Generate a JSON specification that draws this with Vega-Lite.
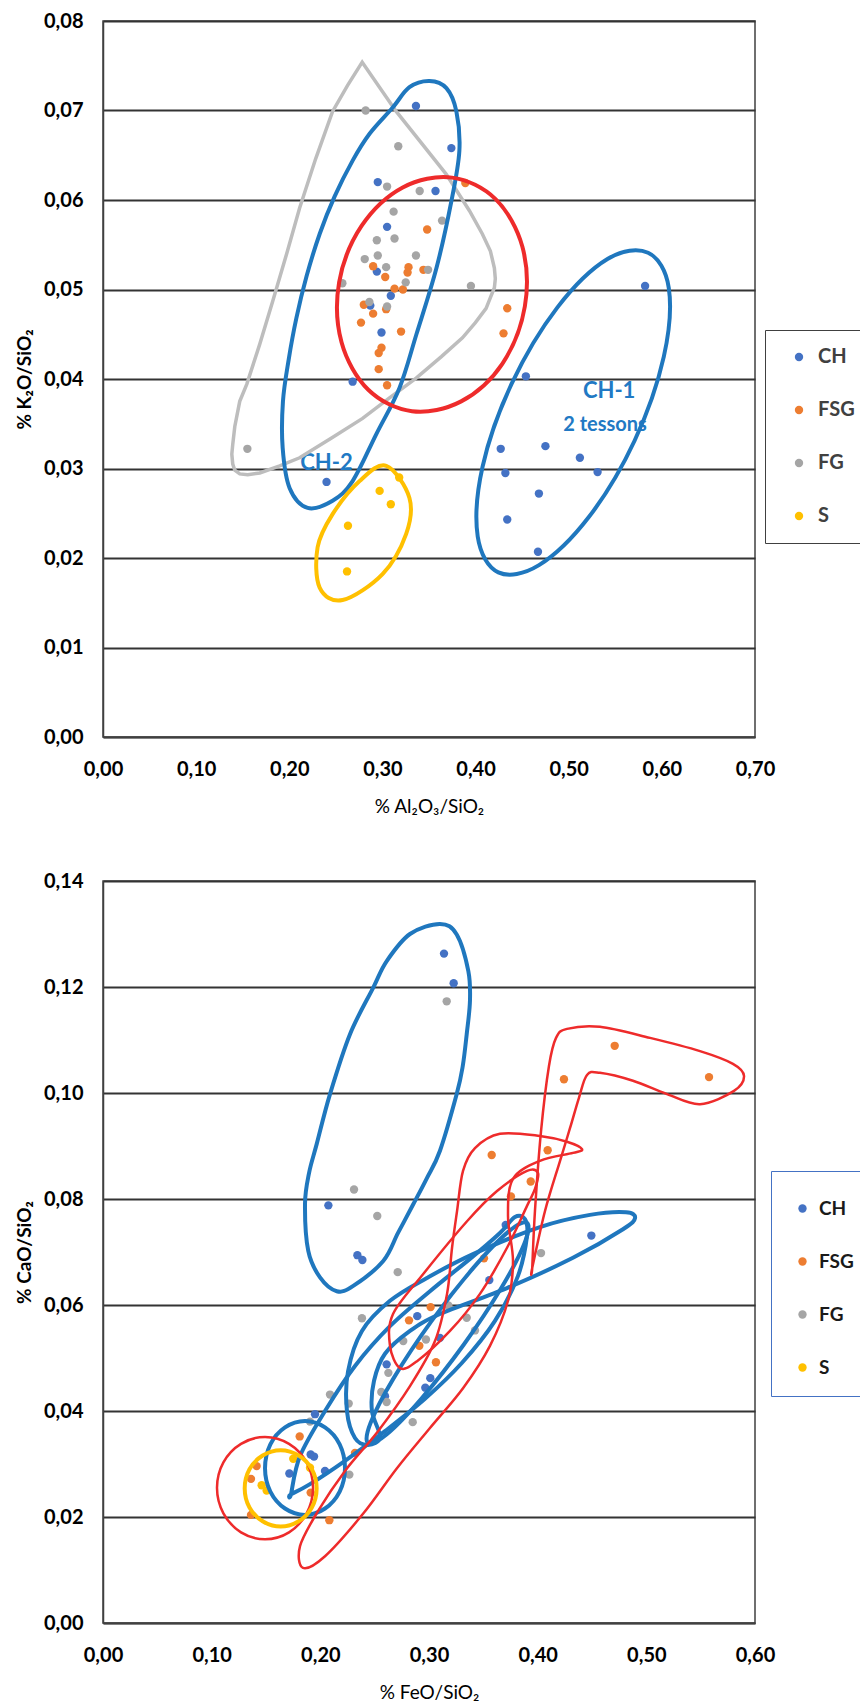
{
"$schema":"https://vega.github.io/schema/vega-lite/v6.json",
"background":"white",
"padding":{"left":14,"top":10,"right":0,"bottom":0},
"bounds":"flush",
"spacing":144,
"config":{
"font":"Lato",
"view":{"stroke":"#404040","strokeWidth":1.5},
"axis":{"labelFont":"Lato","labelFontSize":20,"labelFontWeight":"bold","labelColor":"black","labelFlush":false,"labelOverlap":false,"ticks":false,"tickSize":0,"domainColor":"#404040","domainWidth":1.5,"gridColor":"#333333","gridWidth":1.8,"titleFont":"Lato","titleFontSize":19,"titleColor":"black","titleFontWeight":"bold"},
"axisX":{"grid":false,"labelPadding":22,"titlePadding":18},
"axisY":{"grid":true,"labelPadding":20}
},
"resolve":{"scale":{"x":"independent","y":"independent","color":"independent"},"legend":{"color":"independent"}},
"datasets":{
"tp":[
{"grp":"CH","x":0.336,"y":0.0705},{"grp":"CH","x":0.374,"y":0.0658},{"grp":"CH","x":0.295,"y":0.062},{"grp":"CH","x":0.357,"y":0.061},{"grp":"CH","x":0.305,"y":0.057},{"grp":"CH","x":0.294,"y":0.052},{"grp":"CH","x":0.309,"y":0.0493},{"grp":"CH","x":0.287,"y":0.0482},{"grp":"CH","x":0.299,"y":0.0452},{"grp":"CH","x":0.268,"y":0.0397},{"grp":"CH","x":0.24,"y":0.0285},{"grp":"CH","x":0.582,"y":0.0504},{"grp":"CH","x":0.454,"y":0.0403},{"grp":"CH","x":0.427,"y":0.0322},{"grp":"CH","x":0.475,"y":0.0325},{"grp":"CH","x":0.512,"y":0.0312},{"grp":"CH","x":0.432,"y":0.0295},{"grp":"CH","x":0.531,"y":0.0296},{"grp":"CH","x":0.468,"y":0.0272},{"grp":"CH","x":0.434,"y":0.0243},{"grp":"CH","x":0.467,"y":0.0207},
{"grp":"FSG","x":0.348,"y":0.0567},{"grp":"FSG","x":0.389,"y":0.0619},{"grp":"FSG","x":0.29,"y":0.0526},{"grp":"FSG","x":0.303,"y":0.0514},{"grp":"FSG","x":0.328,"y":0.0525},{"grp":"FSG","x":0.327,"y":0.0519},{"grp":"FSG","x":0.344,"y":0.0522},{"grp":"FSG","x":0.313,"y":0.0501},{"grp":"FSG","x":0.322,"y":0.05},{"grp":"FSG","x":0.28,"y":0.0483},{"grp":"FSG","x":0.304,"y":0.0478},{"grp":"FSG","x":0.29,"y":0.0473},{"grp":"FSG","x":0.277,"y":0.0463},{"grp":"FSG","x":0.32,"y":0.0453},{"grp":"FSG","x":0.299,"y":0.0435},{"grp":"FSG","x":0.296,"y":0.0429},{"grp":"FSG","x":0.296,"y":0.0411},{"grp":"FSG","x":0.305,"y":0.0393},{"grp":"FSG","x":0.434,"y":0.0479},{"grp":"FSG","x":0.43,"y":0.0451},
{"grp":"FG","x":0.282,"y":0.07},{"grp":"FG","x":0.317,"y":0.066},{"grp":"FG","x":0.305,"y":0.0615},{"grp":"FG","x":0.34,"y":0.061},{"grp":"FG","x":0.312,"y":0.0587},{"grp":"FG","x":0.364,"y":0.0577},{"grp":"FG","x":0.294,"y":0.0555},{"grp":"FG","x":0.313,"y":0.0557},{"grp":"FG","x":0.281,"y":0.0534},{"grp":"FG","x":0.295,"y":0.0538},{"grp":"FG","x":0.336,"y":0.0538},{"grp":"FG","x":0.304,"y":0.0525},{"grp":"FG","x":0.349,"y":0.0522},{"grp":"FG","x":0.257,"y":0.0507},{"grp":"FG","x":0.325,"y":0.0508},{"grp":"FG","x":0.395,"y":0.0504},{"grp":"FG","x":0.286,"y":0.0486},{"grp":"FG","x":0.305,"y":0.0481},{"grp":"FG","x":0.155,"y":0.0322},
{"grp":"S","x":0.318,"y":0.029},{"grp":"S","x":0.297,"y":0.0275},{"grp":"S","x":0.309,"y":0.026},{"grp":"S","x":0.263,"y":0.0236},{"grp":"S","x":0.262,"y":0.0185}
],
"ts":[
{"grp":"CH","shape":"A","i":0,"x":0.3505,"y":0.0733},{"grp":"CH","shape":"A","i":1,"x":0.3687,"y":0.0725},{"grp":"CH","shape":"A","i":2,"x":0.3794,"y":0.0699},{"grp":"CH","shape":"A","i":3,"x":0.3826,"y":0.0655},{"grp":"CH","shape":"A","i":4,"x":0.3741,"y":0.0599},{"grp":"CH","shape":"A","i":5,"x":0.358,"y":0.0524},{"grp":"CH","shape":"A","i":6,"x":0.3365,"y":0.045},{"grp":"CH","shape":"A","i":7,"x":0.3183,"y":0.039},{"grp":"CH","shape":"A","i":8,"x":0.2937,"y":0.0339},{"grp":"CH","shape":"A","i":9,"x":0.268,"y":0.0286},{"grp":"CH","shape":"A","i":10,"x":0.2465,"y":0.0264},{"grp":"CH","shape":"A","i":11,"x":0.2197,"y":0.0256},{"grp":"CH","shape":"A","i":12,"x":0.2004,"y":0.0278},{"grp":"CH","shape":"A","i":13,"x":0.1929,"y":0.0323},{"grp":"CH","shape":"A","i":14,"x":0.1932,"y":0.0375},{"grp":"CH","shape":"A","i":15,"x":0.1994,"y":0.0422},{"grp":"CH","shape":"A","i":16,"x":0.2076,"y":0.0468},{"grp":"CH","shape":"A","i":17,"x":0.2186,"y":0.0515},{"grp":"CH","shape":"A","i":18,"x":0.2326,"y":0.0562},{"grp":"CH","shape":"A","i":19,"x":0.2487,"y":0.0604},{"grp":"CH","shape":"A","i":20,"x":0.268,"y":0.0644},{"grp":"CH","shape":"A","i":21,"x":0.2862,"y":0.0674},{"grp":"CH","shape":"A","i":22,"x":0.3108,"y":0.0703},{"grp":"CH","shape":"A","i":23,"x":0.329,"y":0.0726},
{"grp":"CH","shape":"B","i":0,"x":0.5852,"y":0.0541},{"grp":"CH","shape":"B","i":1,"x":0.6074,"y":0.0502},{"grp":"CH","shape":"B","i":2,"x":0.6021,"y":0.0425},{"grp":"CH","shape":"B","i":3,"x":0.5707,"y":0.0331},{"grp":"CH","shape":"B","i":4,"x":0.5218,"y":0.0246},{"grp":"CH","shape":"B","i":5,"x":0.4681,"y":0.0192},{"grp":"CH","shape":"B","i":6,"x":0.4244,"y":0.0184},{"grp":"CH","shape":"B","i":7,"x":0.4023,"y":0.0224},{"grp":"CH","shape":"B","i":8,"x":0.4075,"y":0.0302},{"grp":"CH","shape":"B","i":9,"x":0.4389,"y":0.0395},{"grp":"CH","shape":"B","i":10,"x":0.4879,"y":0.048},{"grp":"CH","shape":"B","i":11,"x":0.5416,"y":0.0534},
{"grp":"FSG","shape":"C","i":0,"x":0.3746,"y":0.0625},{"grp":"FSG","shape":"C","i":1,"x":0.4215,"y":0.0601},{"grp":"FSG","shape":"C","i":2,"x":0.4502,"y":0.0548},{"grp":"FSG","shape":"C","i":3,"x":0.4529,"y":0.0481},{"grp":"FSG","shape":"C","i":4,"x":0.4287,"y":0.0417},{"grp":"FSG","shape":"C","i":5,"x":0.3845,"y":0.0375},{"grp":"FSG","shape":"C","i":6,"x":0.3317,"y":0.0364},{"grp":"FSG","shape":"C","i":7,"x":0.2848,"y":0.0388},{"grp":"FSG","shape":"C","i":8,"x":0.2561,"y":0.0441},{"grp":"FSG","shape":"C","i":9,"x":0.2535,"y":0.0508},{"grp":"FSG","shape":"C","i":10,"x":0.2776,"y":0.0571},{"grp":"FSG","shape":"C","i":11,"x":0.3218,"y":0.0614},
{"grp":"S","shape":"E","i":0,"x":0.3041,"y":0.0303},{"grp":"S","shape":"E","i":1,"x":0.329,"y":0.0267},{"grp":"S","shape":"E","i":2,"x":0.3255,"y":0.0227},{"grp":"S","shape":"E","i":3,"x":0.3001,"y":0.0182},{"grp":"S","shape":"E","i":4,"x":0.2572,"y":0.0153},{"grp":"S","shape":"E","i":5,"x":0.2326,"y":0.0167},{"grp":"S","shape":"E","i":6,"x":0.2304,"y":0.0212},{"grp":"S","shape":"E","i":7,"x":0.2465,"y":0.0249},{"grp":"S","shape":"E","i":8,"x":0.2755,"y":0.0286}
],
"tg":[
{"grp":"FG","shape":"D","i":0,"x":0.2783,"y":0.0754},{"grp":"FG","shape":"D","i":1,"x":0.3148,"y":0.0699},{"grp":"FG","shape":"D","i":2,"x":0.3684,"y":0.0629},{"grp":"FG","shape":"D","i":3,"x":0.3934,"y":0.0588},{"grp":"FG","shape":"D","i":4,"x":0.4073,"y":0.0562},{"grp":"FG","shape":"D","i":5,"x":0.4159,"y":0.0543},{"grp":"FG","shape":"D","i":6,"x":0.4202,"y":0.0524},{"grp":"FG","shape":"D","i":7,"x":0.4212,"y":0.0512},{"grp":"FG","shape":"D","i":8,"x":0.4202,"y":0.0502},{"grp":"FG","shape":"D","i":9,"x":0.4159,"y":0.0491},{"grp":"FG","shape":"D","i":10,"x":0.4113,"y":0.0479},{"grp":"FG","shape":"D","i":11,"x":0.3998,"y":0.0463},{"grp":"FG","shape":"D","i":12,"x":0.3859,"y":0.0446},{"grp":"FG","shape":"D","i":13,"x":0.3633,"y":0.0425},{"grp":"FG","shape":"D","i":14,"x":0.3362,"y":0.0401},{"grp":"FG","shape":"D","i":15,"x":0.3076,"y":0.0379},{"grp":"FG","shape":"D","i":16,"x":0.2787,"y":0.0356},{"grp":"FG","shape":"D","i":17,"x":0.2454,"y":0.0334},{"grp":"FG","shape":"D","i":18,"x":0.2111,"y":0.0312},{"grp":"FG","shape":"D","i":19,"x":0.1897,"y":0.0303},{"grp":"FG","shape":"D","i":20,"x":0.1683,"y":0.0295},{"grp":"FG","shape":"D","i":21,"x":0.1554,"y":0.0293},{"grp":"FG","shape":"D","i":22,"x":0.1468,"y":0.0294},{"grp":"FG","shape":"D","i":23,"x":0.1415,"y":0.0298},{"grp":"FG","shape":"D","i":24,"x":0.1393,"y":0.0305},{"grp":"FG","shape":"D","i":25,"x":0.1383,"y":0.0316},{"grp":"FG","shape":"D","i":26,"x":0.1393,"y":0.0327},{"grp":"FG","shape":"D","i":27,"x":0.1415,"y":0.0347},{"grp":"FG","shape":"D","i":28,"x":0.1468,"y":0.0375},{"grp":"FG","shape":"D","i":29,"x":0.1543,"y":0.0394},{"grp":"FG","shape":"D","i":30,"x":0.1683,"y":0.0439},{"grp":"FG","shape":"D","i":31,"x":0.1822,"y":0.0487},{"grp":"FG","shape":"D","i":32,"x":0.1972,"y":0.054},{"grp":"FG","shape":"D","i":33,"x":0.2111,"y":0.0591},{"grp":"FG","shape":"D","i":34,"x":0.2283,"y":0.0646},{"grp":"FG","shape":"D","i":35,"x":0.2465,"y":0.0699},{"grp":"FG","shape":"D","i":36,"x":0.2626,"y":0.0728}
],
"bp":[
{"grp":"CH","x":0.3138,"y":0.1263},{"grp":"CH","x":0.3227,"y":0.1207},{"grp":"CH","x":0.2074,"y":0.0788},{"grp":"CH","x":0.3706,"y":0.0751},{"grp":"CH","x":0.4494,"y":0.0731},{"grp":"CH","x":0.2341,"y":0.0694},{"grp":"CH","x":0.2387,"y":0.0685},{"grp":"CH","x":0.3555,"y":0.0647},{"grp":"CH","x":0.2892,"y":0.0579},{"grp":"CH","x":0.3101,"y":0.0538},{"grp":"CH","x":0.3012,"y":0.0462},{"grp":"CH","x":0.2966,"y":0.0444},{"grp":"CH","x":0.261,"y":0.0488},{"grp":"CH","x":0.2595,"y":0.0428},{"grp":"CH","x":0.1951,"y":0.0394},{"grp":"CH","x":0.1911,"y":0.0318},{"grp":"CH","x":0.1942,"y":0.0314},{"grp":"CH","x":0.2043,"y":0.0287},{"grp":"CH","x":0.1715,"y":0.0282},
{"grp":"FSG","x":0.4709,"y":0.1089},{"grp":"FSG","x":0.4242,"y":0.1026},{"grp":"FSG","x":0.5577,"y":0.103},{"grp":"FSG","x":0.3577,"y":0.0883},{"grp":"FSG","x":0.4092,"y":0.0892},{"grp":"FSG","x":0.3936,"y":0.0833},{"grp":"FSG","x":0.3754,"y":0.0805},{"grp":"FSG","x":0.3506,"y":0.0688},{"grp":"FSG","x":0.3015,"y":0.0596},{"grp":"FSG","x":0.2816,"y":0.0571},{"grp":"FSG","x":0.2911,"y":0.0523},{"grp":"FSG","x":0.3064,"y":0.0492},{"grp":"FSG","x":0.2319,"y":0.0321},{"grp":"FSG","x":0.181,"y":0.0352},{"grp":"FSG","x":0.1414,"y":0.0296},{"grp":"FSG","x":0.1362,"y":0.0272},{"grp":"FSG","x":0.1911,"y":0.0246},{"grp":"FSG","x":0.1362,"y":0.0204},{"grp":"FSG","x":0.2083,"y":0.0194},
{"grp":"FG","x":0.3163,"y":0.1173},{"grp":"FG","x":0.231,"y":0.0818},{"grp":"FG","x":0.2524,"y":0.0768},{"grp":"FG","x":0.4031,"y":0.0698},{"grp":"FG","x":0.2712,"y":0.0662},{"grp":"FG","x":0.3178,"y":0.0599},{"grp":"FG","x":0.2383,"y":0.0575},{"grp":"FG","x":0.3347,"y":0.0576},{"grp":"FG","x":0.3423,"y":0.0552},{"grp":"FG","x":0.2763,"y":0.0532},{"grp":"FG","x":0.2972,"y":0.0535},{"grp":"FG","x":0.2626,"y":0.0472},{"grp":"FG","x":0.2561,"y":0.0436},{"grp":"FG","x":0.261,"y":0.0417},{"grp":"FG","x":0.2261,"y":0.0414},{"grp":"FG","x":0.285,"y":0.0379},{"grp":"FG","x":0.2089,"y":0.0431},{"grp":"FG","x":0.1905,"y":0.038},{"grp":"FG","x":0.2267,"y":0.028},
{"grp":"S","x":0.1751,"y":0.031},{"grp":"S","x":0.1905,"y":0.0293},{"grp":"S","x":0.146,"y":0.026},{"grp":"S","x":0.1506,"y":0.025}
],
"bs":[
{"grp":"CH","shape":"a","i":0,"x":0.3101,"y":0.1319},{"grp":"CH","shape":"a","i":1,"x":0.3255,"y":0.1299},{"grp":"CH","shape":"a","i":2,"x":0.3362,"y":0.123},{"grp":"CH","shape":"a","i":3,"x":0.3377,"y":0.1174},{"grp":"CH","shape":"a","i":4,"x":0.3347,"y":0.1111},{"grp":"CH","shape":"a","i":5,"x":0.331,"y":0.105},{"grp":"CH","shape":"a","i":6,"x":0.3255,"y":0.0998},{"grp":"CH","shape":"a","i":7,"x":0.3101,"y":0.0891},{"grp":"CH","shape":"a","i":8,"x":0.2982,"y":0.084},{"grp":"CH","shape":"a","i":9,"x":0.2855,"y":0.079},{"grp":"CH","shape":"a","i":10,"x":0.2715,"y":0.0736},{"grp":"CH","shape":"a","i":11,"x":0.2579,"y":0.0683},{"grp":"CH","shape":"a","i":12,"x":0.2303,"y":0.0636},{"grp":"CH","shape":"a","i":13,"x":0.2151,"y":0.0626},{"grp":"CH","shape":"a","i":14,"x":0.1997,"y":0.0652},{"grp":"CH","shape":"a","i":15,"x":0.1889,"y":0.0702},{"grp":"CH","shape":"a","i":16,"x":0.1859,"y":0.0791},{"grp":"CH","shape":"a","i":17,"x":0.1896,"y":0.0849},{"grp":"CH","shape":"a","i":18,"x":0.1967,"y":0.0904},{"grp":"CH","shape":"a","i":19,"x":0.2089,"y":0.0998},{"grp":"CH","shape":"a","i":20,"x":0.2273,"y":0.1111},{"grp":"CH","shape":"a","i":21,"x":0.2487,"y":0.1199},{"grp":"CH","shape":"a","i":22,"x":0.2611,"y":0.1249},{"grp":"CH","shape":"a","i":23,"x":0.2825,"y":0.13},
{"grp":"CH","shape":"b","i":0,"x":0.2227,"y":0.0292},{"grp":"CH","shape":"b","i":1,"x":0.2178,"y":0.0337},{"grp":"CH","shape":"b","i":2,"x":0.2043,"y":0.0369},{"grp":"CH","shape":"b","i":3,"x":0.1859,"y":0.0381},{"grp":"CH","shape":"b","i":4,"x":0.1675,"y":0.0369},{"grp":"CH","shape":"b","i":5,"x":0.154,"y":0.0337},{"grp":"CH","shape":"b","i":6,"x":0.1491,"y":0.0292},{"grp":"CH","shape":"b","i":7,"x":0.154,"y":0.0248},{"grp":"CH","shape":"b","i":8,"x":0.1675,"y":0.0216},{"grp":"CH","shape":"b","i":9,"x":0.1859,"y":0.0204},{"grp":"CH","shape":"b","i":10,"x":0.2043,"y":0.0216},{"grp":"CH","shape":"b","i":11,"x":0.2178,"y":0.0248},
{"grp":"CH","shape":"c","i":0,"x":0.173,"y":0.0243},{"grp":"CH","shape":"c","i":1,"x":0.1813,"y":0.0315},{"grp":"CH","shape":"c","i":2,"x":0.2043,"y":0.04},{"grp":"CH","shape":"c","i":3,"x":0.2319,"y":0.0485},{"grp":"CH","shape":"c","i":4,"x":0.2641,"y":0.056},{"grp":"CH","shape":"c","i":5,"x":0.3009,"y":0.0626},{"grp":"CH","shape":"c","i":6,"x":0.3377,"y":0.0687},{"grp":"CH","shape":"c","i":7,"x":0.3653,"y":0.0736},{"grp":"CH","shape":"c","i":8,"x":0.3791,"y":0.0766},{"grp":"CH","shape":"c","i":9,"x":0.3883,"y":0.0762},{"grp":"CH","shape":"c","i":10,"x":0.3902,"y":0.073},{"grp":"CH","shape":"c","i":11,"x":0.3819,"y":0.0655},{"grp":"CH","shape":"c","i":12,"x":0.3607,"y":0.057},{"grp":"CH","shape":"c","i":13,"x":0.3304,"y":0.0491},{"grp":"CH","shape":"c","i":14,"x":0.2963,"y":0.0423},{"grp":"CH","shape":"c","i":15,"x":0.2595,"y":0.0362},{"grp":"CH","shape":"c","i":16,"x":0.2227,"y":0.0306},{"grp":"CH","shape":"c","i":17,"x":0.1905,"y":0.0262},{"grp":"CH","shape":"c","i":18,"x":0.173,"y":0.0243},
{"grp":"CH","shape":"d","i":0,"x":0.4896,"y":0.0764},{"grp":"CH","shape":"d","i":1,"x":0.4813,"y":0.0775},{"grp":"CH","shape":"d","i":2,"x":0.4481,"y":0.077},{"grp":"CH","shape":"d","i":3,"x":0.4021,"y":0.0747},{"grp":"CH","shape":"d","i":4,"x":0.3405,"y":0.0696},{"grp":"CH","shape":"d","i":5,"x":0.2981,"y":0.0651},{"grp":"CH","shape":"d","i":6,"x":0.2641,"y":0.0608},{"grp":"CH","shape":"d","i":7,"x":0.2383,"y":0.0551},{"grp":"CH","shape":"d","i":8,"x":0.2255,"y":0.0475},{"grp":"CH","shape":"d","i":9,"x":0.2245,"y":0.04},{"grp":"CH","shape":"d","i":10,"x":0.2319,"y":0.0349},{"grp":"CH","shape":"d","i":11,"x":0.2439,"y":0.0336},{"grp":"CH","shape":"d","i":12,"x":0.2549,"y":0.0351},{"grp":"CH","shape":"d","i":13,"x":0.2475,"y":0.04},{"grp":"CH","shape":"d","i":14,"x":0.2494,"y":0.0457},{"grp":"CH","shape":"d","i":15,"x":0.2595,"y":0.0508},{"grp":"CH","shape":"d","i":16,"x":0.2825,"y":0.0551},{"grp":"CH","shape":"d","i":17,"x":0.3101,"y":0.0583},{"grp":"CH","shape":"d","i":18,"x":0.3718,"y":0.0632},{"grp":"CH","shape":"d","i":19,"x":0.4325,"y":0.0689},{"grp":"CH","shape":"d","i":20,"x":0.4785,"y":0.0743},
{"grp":"CH","shape":"e","i":0,"x":0.3902,"y":0.0755},{"grp":"CH","shape":"e","i":1,"x":0.3878,"y":0.0716},{"grp":"CH","shape":"e","i":2,"x":0.3665,"y":0.0632},{"grp":"CH","shape":"e","i":3,"x":0.3319,"y":0.0525},{"grp":"CH","shape":"e","i":4,"x":0.2933,"y":0.0424},{"grp":"CH","shape":"e","i":5,"x":0.2612,"y":0.0356},{"grp":"CH","shape":"e","i":6,"x":0.2439,"y":0.034},{"grp":"CH","shape":"e","i":7,"x":0.2463,"y":0.0378},{"grp":"CH","shape":"e","i":8,"x":0.2675,"y":0.0462},{"grp":"CH","shape":"e","i":9,"x":0.3021,"y":0.0569},{"grp":"CH","shape":"e","i":10,"x":0.3408,"y":0.067},{"grp":"CH","shape":"e","i":11,"x":0.3729,"y":0.0738},
{"grp":"FSG","shape":"f1","i":0,"x":0.1933,"y":0.0255},{"grp":"FSG","shape":"f1","i":1,"x":0.1874,"y":0.0303},{"grp":"FSG","shape":"f1","i":2,"x":0.1712,"y":0.0338},{"grp":"FSG","shape":"f1","i":3,"x":0.1491,"y":0.0351},{"grp":"FSG","shape":"f1","i":4,"x":0.127,"y":0.0338},{"grp":"FSG","shape":"f1","i":5,"x":0.1108,"y":0.0303},{"grp":"FSG","shape":"f1","i":6,"x":0.1049,"y":0.0255},{"grp":"FSG","shape":"f1","i":7,"x":0.1108,"y":0.0207},{"grp":"FSG","shape":"f1","i":8,"x":0.127,"y":0.0171},{"grp":"FSG","shape":"f1","i":9,"x":0.1491,"y":0.0158},{"grp":"FSG","shape":"f1","i":10,"x":0.1712,"y":0.0171},{"grp":"FSG","shape":"f1","i":11,"x":0.1874,"y":0.0207},
{"grp":"FSG","shape":"f2","i":0,"x":0.184,"y":0.0104},{"grp":"FSG","shape":"f2","i":1,"x":0.2043,"y":0.0126},{"grp":"FSG","shape":"f2","i":2,"x":0.2393,"y":0.0206},{"grp":"FSG","shape":"f2","i":3,"x":0.2705,"y":0.0292},{"grp":"FSG","shape":"f2","i":4,"x":0.3009,"y":0.0368},{"grp":"FSG","shape":"f2","i":5,"x":0.3313,"y":0.0443},{"grp":"FSG","shape":"f2","i":6,"x":0.3561,"y":0.0523},{"grp":"FSG","shape":"f2","i":7,"x":0.3727,"y":0.0608},{"grp":"FSG","shape":"f2","i":8,"x":0.3773,"y":0.0683},{"grp":"FSG","shape":"f2","i":9,"x":0.3727,"y":0.0768},{"grp":"FSG","shape":"f2","i":10,"x":0.3773,"y":0.0838},{"grp":"FSG","shape":"f2","i":11,"x":0.4021,"y":0.0872},{"grp":"FSG","shape":"f2","i":12,"x":0.4325,"y":0.0887},{"grp":"FSG","shape":"f2","i":13,"x":0.4408,"y":0.0894},{"grp":"FSG","shape":"f2","i":14,"x":0.427,"y":0.0908},{"grp":"FSG","shape":"f2","i":15,"x":0.4021,"y":0.0919},{"grp":"FSG","shape":"f2","i":16,"x":0.3653,"y":0.0923},{"grp":"FSG","shape":"f2","i":17,"x":0.3423,"y":0.0896},{"grp":"FSG","shape":"f2","i":18,"x":0.3313,"y":0.0853},{"grp":"FSG","shape":"f2","i":19,"x":0.3258,"y":0.0777},{"grp":"FSG","shape":"f2","i":20,"x":0.3212,"y":0.0708},{"grp":"FSG","shape":"f2","i":21,"x":0.3166,"y":0.0621},{"grp":"FSG","shape":"f2","i":22,"x":0.3055,"y":0.0532},{"grp":"FSG","shape":"f2","i":23,"x":0.2825,"y":0.0447},{"grp":"FSG","shape":"f2","i":24,"x":0.2531,"y":0.0362},{"grp":"FSG","shape":"f2","i":25,"x":0.2227,"y":0.0287},{"grp":"FSG","shape":"f2","i":26,"x":0.1978,"y":0.0211},{"grp":"FSG","shape":"f2","i":27,"x":0.1813,"y":0.0145},
{"grp":"FSG","shape":"f3","i":0,"x":0.2733,"y":0.0481},{"grp":"FSG","shape":"f3","i":1,"x":0.2641,"y":0.0523},{"grp":"FSG","shape":"f3","i":2,"x":0.2669,"y":0.0583},{"grp":"FSG","shape":"f3","i":3,"x":0.2945,"y":0.0658},{"grp":"FSG","shape":"f3","i":4,"x":0.335,"y":0.0758},{"grp":"FSG","shape":"f3","i":5,"x":0.3626,"y":0.0815},{"grp":"FSG","shape":"f3","i":6,"x":0.3902,"y":0.0853},{"grp":"FSG","shape":"f3","i":7,"x":0.4003,"y":0.0849},{"grp":"FSG","shape":"f3","i":8,"x":0.3975,"y":0.0819},{"grp":"FSG","shape":"f3","i":9,"x":0.3902,"y":0.0787},{"grp":"FSG","shape":"f3","i":10,"x":0.3718,"y":0.0708},{"grp":"FSG","shape":"f3","i":11,"x":0.3469,"y":0.0621},{"grp":"FSG","shape":"f3","i":12,"x":0.3193,"y":0.0551},{"grp":"FSG","shape":"f3","i":13,"x":0.289,"y":0.0494},
{"grp":"FSG","shape":"f4","i":0,"x":0.395,"y":0.067},{"grp":"FSG","shape":"f4","i":1,"x":0.3975,"y":0.0777},{"grp":"FSG","shape":"f4","i":2,"x":0.4031,"y":0.0928},{"grp":"FSG","shape":"f4","i":3,"x":0.4104,"y":0.1051},{"grp":"FSG","shape":"f4","i":4,"x":0.4169,"y":0.1104},{"grp":"FSG","shape":"f4","i":5,"x":0.427,"y":0.1121},{"grp":"FSG","shape":"f4","i":6,"x":0.4573,"y":0.1125},{"grp":"FSG","shape":"f4","i":7,"x":0.5034,"y":0.1104},{"grp":"FSG","shape":"f4","i":8,"x":0.5494,"y":0.1079},{"grp":"FSG","shape":"f4","i":9,"x":0.5797,"y":0.1055},{"grp":"FSG","shape":"f4","i":10,"x":0.5899,"y":0.1032},{"grp":"FSG","shape":"f4","i":11,"x":0.5807,"y":0.1004},{"grp":"FSG","shape":"f4","i":12,"x":0.5494,"y":0.0979},{"grp":"FSG","shape":"f4","i":13,"x":0.519,"y":0.0998},{"grp":"FSG","shape":"f4","i":14,"x":0.4877,"y":0.1023},{"grp":"FSG","shape":"f4","i":15,"x":0.4573,"y":0.1038},{"grp":"FSG","shape":"f4","i":16,"x":0.4454,"y":0.1034},{"grp":"FSG","shape":"f4","i":17,"x":0.438,"y":0.0991},{"grp":"FSG","shape":"f4","i":18,"x":0.4298,"y":0.0934},{"grp":"FSG","shape":"f4","i":19,"x":0.4206,"y":0.0872},{"grp":"FSG","shape":"f4","i":20,"x":0.4067,"y":0.0777},{"grp":"FSG","shape":"f4","i":21,"x":0.395,"y":0.067},
{"grp":"S","shape":"s1","i":0,"x":0.1966,"y":0.0254},{"grp":"S","shape":"s1","i":1,"x":0.1922,"y":0.029},{"grp":"S","shape":"s1","i":2,"x":0.1801,"y":0.0316},{"grp":"S","shape":"s1","i":3,"x":0.1635,"y":0.0326},{"grp":"S","shape":"s1","i":4,"x":0.1469,"y":0.0316},{"grp":"S","shape":"s1","i":5,"x":0.1348,"y":0.029},{"grp":"S","shape":"s1","i":6,"x":0.1304,"y":0.0254},{"grp":"S","shape":"s1","i":7,"x":0.1348,"y":0.0218},{"grp":"S","shape":"s1","i":8,"x":0.1469,"y":0.0192},{"grp":"S","shape":"s1","i":9,"x":0.1635,"y":0.0182},{"grp":"S","shape":"s1","i":10,"x":0.1801,"y":0.0192},{"grp":"S","shape":"s1","i":11,"x":0.1922,"y":0.0218}
]
},
"vconcat":[
{
"width":652,"height":716,
"layer":[
{"data":{"name":"tp"},"mark":{"type":"circle","size":70,"opacity":1},
"encoding":{
"x":{"field":"x","type":"quantitative","scale":{"domain":[0,0.7],"nice":false,"zero":false},"axis":{"values":[0,0.1,0.2,0.3,0.4,0.5,0.6,0.7],"labelExpr":"replace(format(datum.value,'.2f'),'.',',')","title":"% Al₂O₃/SiO₂","titleFontWeight":"normal"}},
"y":{"field":"y","type":"quantitative","scale":{"domain":[0,0.08],"nice":false,"zero":false},"axis":{"values":[0,0.01,0.02,0.03,0.04,0.05,0.06,0.07,0.08],"labelExpr":"replace(format(datum.value,'.2f'),'.',',')","title":"% K₂O/SiO₂","titleX":-79,"titleY":358,"titleBaseline":"middle","titleAngle":-90,"titleAlign":"center"}},
"color":{"field":"grp","type":"nominal","scale":{"domain":["CH","FSG","FG","S"],"range":["#4472C4","#ED7D31","#A5A5A5","#FFC000"]},
"legend":{"title":null,"orient":"none","legendX":662,"legendY":309,"padding":17,"strokeColor":"#404040","fillColor":"white","labelFont":"Lato","labelFontSize":20,"labelFontWeight":"bold","labelColor":"#404040","symbolType":"circle","symbolSize":70,"symbolOffset":7,"labelOffset":9,"rowPadding":33}}
}},
{"data":{"values":[{"label":"CH-1","x":0.5434,"y":0.0387},{"label":"CH-2","x":0.24,"y":0.0306}]},"mark":{"type":"text","font":"Lato","fontSize":22,"fontWeight":"bold","color":"#2179C4"},
"encoding":{"x":{"field":"x","type":"quantitative","scale":{"domain":[0,0.7],"nice":false,"zero":false}},"y":{"field":"y","type":"quantitative","scale":{"domain":[0,0.08],"nice":false,"zero":false}},"text":{"field":"label"}}},
{"data":{"values":[{"label":"2 tessons","x":0.539,"y":0.0349}]},"mark":{"type":"text","font":"Lato","fontSize":20,"fontWeight":"bold","color":"#2179C4"},
"encoding":{"x":{"field":"x","type":"quantitative","scale":{"domain":[0,0.7],"nice":false,"zero":false}},"y":{"field":"y","type":"quantitative","scale":{"domain":[0,0.08],"nice":false,"zero":false}},"text":{"field":"label"}}},
{"data":{"name":"tg"},"mark":{"type":"line","interpolate":"linear-closed","strokeJoin":"miter","strokeWidth":3.5,"stroke":"#BDBDBD"},
"encoding":{"x":{"field":"x","type":"quantitative","scale":{"domain":[0,0.7],"nice":false,"zero":false}},"y":{"field":"y","type":"quantitative","scale":{"domain":[0,0.08],"nice":false,"zero":false}},"detail":{"field":"shape"},"order":{"field":"i","type":"quantitative"}}},
{"data":{"name":"ts"},"mark":{"type":"line","interpolate":"cardinal-closed"},
"encoding":{"x":{"field":"x","type":"quantitative","scale":{"domain":[0,0.7],"nice":false,"zero":false}},"y":{"field":"y","type":"quantitative","scale":{"domain":[0,0.08],"nice":false,"zero":false}},"detail":{"field":"shape"},"order":{"field":"i","type":"quantitative"},
"stroke":{"field":"grp","type":"nominal","scale":{"domain":["CH","FSG","FG","S"],"range":["#1F77BE","#EE2B2B","#BDBDBD","#FFC000"]},"legend":null},
"strokeWidth":{"value":4}}}
]
},
{
"width":652,"height":742,
"layer":[
{"data":{"name":"bp"},"mark":{"type":"circle","size":70,"opacity":1},
"encoding":{
"x":{"field":"x","type":"quantitative","scale":{"domain":[0,0.6],"nice":false,"zero":false},"axis":{"values":[0,0.1,0.2,0.3,0.4,0.5,0.6],"labelExpr":"replace(format(datum.value,'.2f'),'.',',')","title":"% FeO/SiO₂","titleFontWeight":"normal"}},
"y":{"field":"y","type":"quantitative","scale":{"domain":[0,0.14],"nice":false,"zero":false},"axis":{"values":[0,0.02,0.04,0.06,0.08,0.1,0.12,0.14],"labelExpr":"replace(format(datum.value,'.2f'),'.',',')","title":"% CaO/SiO₂","titleX":-79,"titleY":371,"titleBaseline":"middle","titleAngle":-90,"titleAlign":"center"}},
"color":{"field":"grp","type":"nominal","scale":{"domain":["CH","FSG","FG","S"],"range":["#4472C4","#ED7D31","#A5A5A5","#FFC000"]},
"legend":{"title":" ","titleFontSize":6,"titlePadding":4,"orient":"none","legendX":668,"legendY":290,"padding":18,"strokeColor":"#4472C4","fillColor":"white","labelFont":"Lato","labelFontSize":19,"labelFontWeight":"bold","labelColor":"#1a1a1a","symbolType":"circle","symbolSize":70,"symbolOffset":4,"labelOffset":7,"rowPadding":33}}
}},
{"data":{"name":"bs"},"mark":{"type":"line","interpolate":"cardinal-closed"},
"encoding":{"x":{"field":"x","type":"quantitative","scale":{"domain":[0,0.6],"nice":false,"zero":false}},"y":{"field":"y","type":"quantitative","scale":{"domain":[0,0.14],"nice":false,"zero":false}},"detail":{"field":"shape"},"order":{"field":"i","type":"quantitative"},
"stroke":{"field":"grp","type":"nominal","scale":{"domain":["CH","FSG","FG","S"],"range":["#1F77BE","#EE2B2B","#BDBDBD","#FFC000"]},"legend":null},
"strokeWidth":{"condition":{"test":"datum.grp=='FSG'","value":2.5},"value":4}}}
]
}
]
}
